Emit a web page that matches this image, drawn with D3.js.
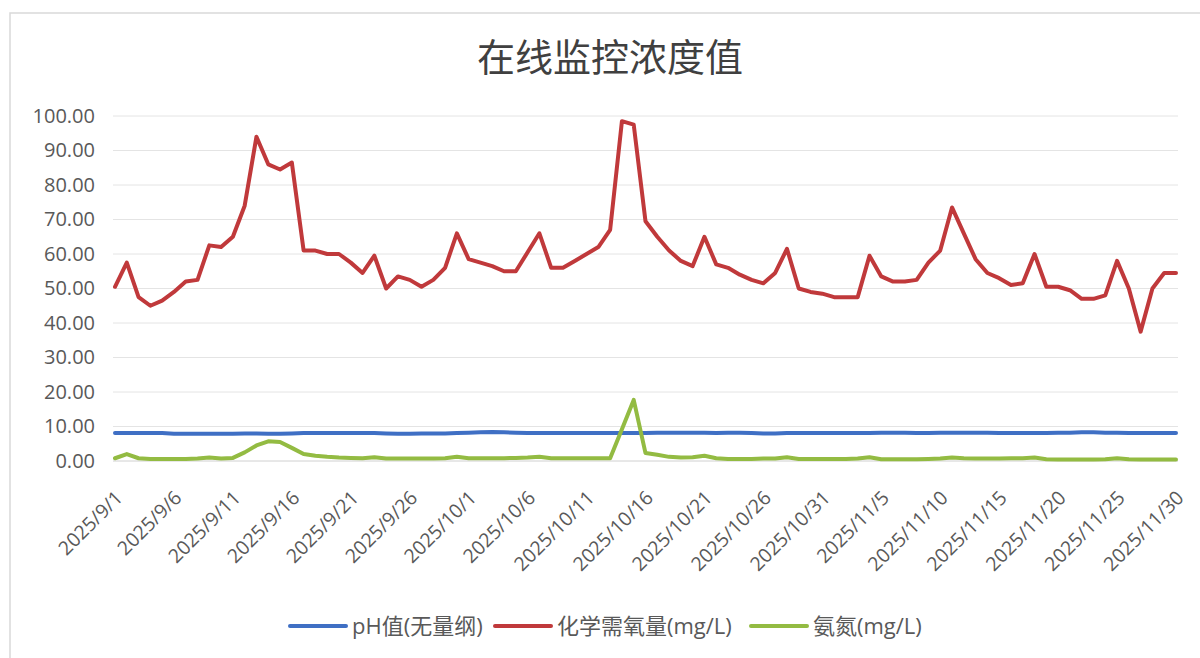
<!DOCTYPE html>
<html>
<head>
<meta charset="utf-8">
<script src="https://cdn.jsdelivr.net/npm/d3@7"></script>
<style>
  body { margin: 0; background: #fff; }
  #chart { width: 1200px; height: 658px; }
  text { font-family: "Open Sans", "Noto Sans CJK SC", sans-serif; }
</style>
</head>
<body>
<div id="chart"></div>
<script>
// dates 2025/9/1 .. 2025/11/30, one reading per day
const days = d3.timeDay.range(new Date(2025, 8, 1), new Date(2025, 11, 1));

const tickLabels = ["2025/9/1", "2025/9/6", "2025/9/11", "2025/9/16", "2025/9/21", "2025/9/26",
  "2025/10/1", "2025/10/6", "2025/10/11", "2025/10/16", "2025/10/21", "2025/10/26", "2025/10/31",
  "2025/11/5", "2025/11/10", "2025/11/15", "2025/11/20", "2025/11/25", "2025/11/30"];

const yTicks = [0, 10, 20, 30, 40, 50, 60, 70, 80, 90, 100];

const ph = [8.1, 8.1, 8.1, 8.1, 8.1, 7.9, 7.9, 7.9, 7.9, 7.9, 7.9, 8.0, 8.0, 7.9, 7.9, 8.0,
  8.1, 8.1, 8.1, 8.1, 8.1, 8.1, 8.1, 8.0, 7.9, 7.9, 8.0, 8.0, 8.0, 8.1, 8.2, 8.3, 8.4, 8.3,
  8.2, 8.1, 8.1, 8.1, 8.1, 8.1, 8.1, 8.1, 8.1, 8.1, 8.1, 8.1, 8.2, 8.2, 8.2, 8.2, 8.2, 8.1,
  8.2, 8.2, 8.1, 8.0, 8.0, 8.1, 8.1, 8.1, 8.1, 8.1, 8.1, 8.1, 8.1, 8.2, 8.2, 8.2, 8.1, 8.1,
  8.2, 8.2, 8.2, 8.2, 8.2, 8.1, 8.1, 8.1, 8.1, 8.1, 8.2, 8.2, 8.3, 8.3, 8.2, 8.2, 8.1, 8.1,
  8.1, 8.1, 8.1];

const cod = [50.5, 57.5, 47.5, 45, 46.5, 49, 52, 52.5, 62.5, 62, 65, 74, 94, 86, 84.5, 86.5,
  61, 61, 60, 60, 57.5, 54.5, 59.5, 50, 53.5, 52.5, 50.5, 52.5, 56, 66, 58.5, 57.5, 56.5,
  55, 55, 60.5, 66, 56, 56, 58, 60, 62, 67, 98.5, 97.5, 69.5, 65, 61, 58, 56.5, 65, 57, 56,
  54, 52.5, 51.5, 54.5, 61.5, 50, 49, 48.5, 47.5, 47.5, 47.5, 59.5, 53.5, 52, 52, 52.5,
  57.5, 61, 73.5, 66, 58.5, 54.5, 53, 51, 51.5, 60, 50.5, 50.5, 49.5, 47, 47, 48, 58, 50,
  37.5, 50, 54.5, 54.5];

const nh3 = [0.8, 2.0, 0.8, 0.6, 0.6, 0.6, 0.6, 0.7, 1.0, 0.7, 0.9, 2.5, 4.5, 5.7, 5.5, 3.8,
  2.0, 1.5, 1.2, 1.0, 0.9, 0.8, 1.1, 0.7, 0.7, 0.7, 0.7, 0.7, 0.8, 1.2, 0.8, 0.8, 0.8, 0.8,
  0.9, 1.0, 1.2, 0.8, 0.8, 0.8, 0.8, 0.8, 0.8, 9.2, 17.7, 2.3, 1.8, 1.2, 1.0, 1.1, 1.5, 0.8,
  0.6, 0.6, 0.6, 0.7, 0.7, 1.1, 0.6, 0.6, 0.6, 0.6, 0.6, 0.7, 1.1, 0.5, 0.5, 0.5, 0.5, 0.6,
  0.7, 1.0, 0.8, 0.7, 0.7, 0.7, 0.8, 0.8, 1.0, 0.5, 0.4, 0.4, 0.4, 0.4, 0.5, 0.8, 0.5, 0.4,
  0.4, 0.4, 0.4];

const seriesNames = ["pH值(无量纲)", "化学需氧量(mg/L)", "氨氮(mg/L)"];
const seriesColors = ["#3f6fc4", "#c0393b", "#93bb42"];

const width = 1200, height = 658;
const margin = { top: 116, right: 24, bottom: 197, left: 115 };

const svg = d3.select("#chart").append("svg")
  .attr("width", width)
  .attr("height", height);

// chart frame
svg.append("path")
  .attr("d", `M10,${height} V13 H${width}`)
  .attr("fill", "none")
  .attr("stroke", "#d9d9d9")
  .attr("stroke-width", 1.5);

const x = d3.scaleTime()
  .domain([days[0], days[days.length - 1]])
  .range([margin.left, width - margin.right]);

const y = d3.scaleLinear()
  .domain([0, 100])
  .range([height - margin.bottom, margin.top]);

// title
svg.append("text")
  .attr("x", 610)
  .attr("y", 71)
  .attr("text-anchor", "middle")
  .attr("font-size", "38px")
  .attr("fill", "#404040")
  .style("font-family", "'Noto Sans CJK SC', sans-serif")
  .text("在线监控浓度值");

// grid lines
svg.append("g")
  .selectAll("line")
  .data(yTicks)
  .enter().append("line")
  .attr("x1", margin.left - 2)
  .attr("x2", width - margin.right + 2)
  .attr("y1", d => y(d))
  .attr("y2", d => y(d))
  .attr("stroke", d => d === 0 ? "#d0d0d0" : "#e4e4e4")
  .attr("stroke-width", 1);

// y axis labels
const yAxis = svg.append("g")
  .attr("transform", `translate(${margin.left - 17},0)`)
  .call(d3.axisLeft(y).tickValues(yTicks).tickSize(0).tickFormat(d3.format(".2f")));
yAxis.select(".domain").remove();
yAxis.selectAll("text")
  .attr("font-size", "20px")
  .attr("fill", "#595959")
  .style("font-family", "'Open Sans', sans-serif");

// x axis labels, every 5 days
const parseLabel = d3.timeParse("%Y/%m/%d");
svg.append("g")
  .selectAll("text")
  .data(tickLabels)
  .enter().append("text")
  .attr("transform", d => `translate(${x(parseLabel(d)) + 9},${height - margin.bottom + 38}) rotate(-45)`)
  .attr("text-anchor", "end")
  .attr("font-size", "19.5px")
  .attr("fill", "#595959")
  .text(d => d);

// lines
const allSeries = [ph, cod, nh3];
const line = d3.line()
  .x((d, i) => x(days[i]))
  .y(d => y(d));

svg.append("g")
  .selectAll("path")
  .data(allSeries)
  .enter().append("path")
  .attr("d", d => line(d))
  .attr("fill", "none")
  .attr("stroke", (d, i) => seriesColors[i])
  .attr("stroke-width", 4)
  .attr("stroke-linejoin", "round")
  .attr("stroke-linecap", "round");

// legend
const legendX = [290, 495, 751];
const legend = svg.append("g")
  .selectAll("g")
  .data(seriesNames)
  .enter().append("g")
  .attr("transform", (d, i) => `translate(${legendX[i]},626)`);
legend.append("line")
  .attr("x1", 0).attr("x2", 56)
  .attr("stroke", (d, i) => seriesColors[i])
  .attr("stroke-width", 4)
  .attr("stroke-linecap", "round");
legend.append("text")
  .attr("x", 62)
  .attr("dy", "0.35em")
  .attr("font-size", "22px")
  .attr("fill", "#595959")
  .text(d => d);
</script>
</body>
</html>
